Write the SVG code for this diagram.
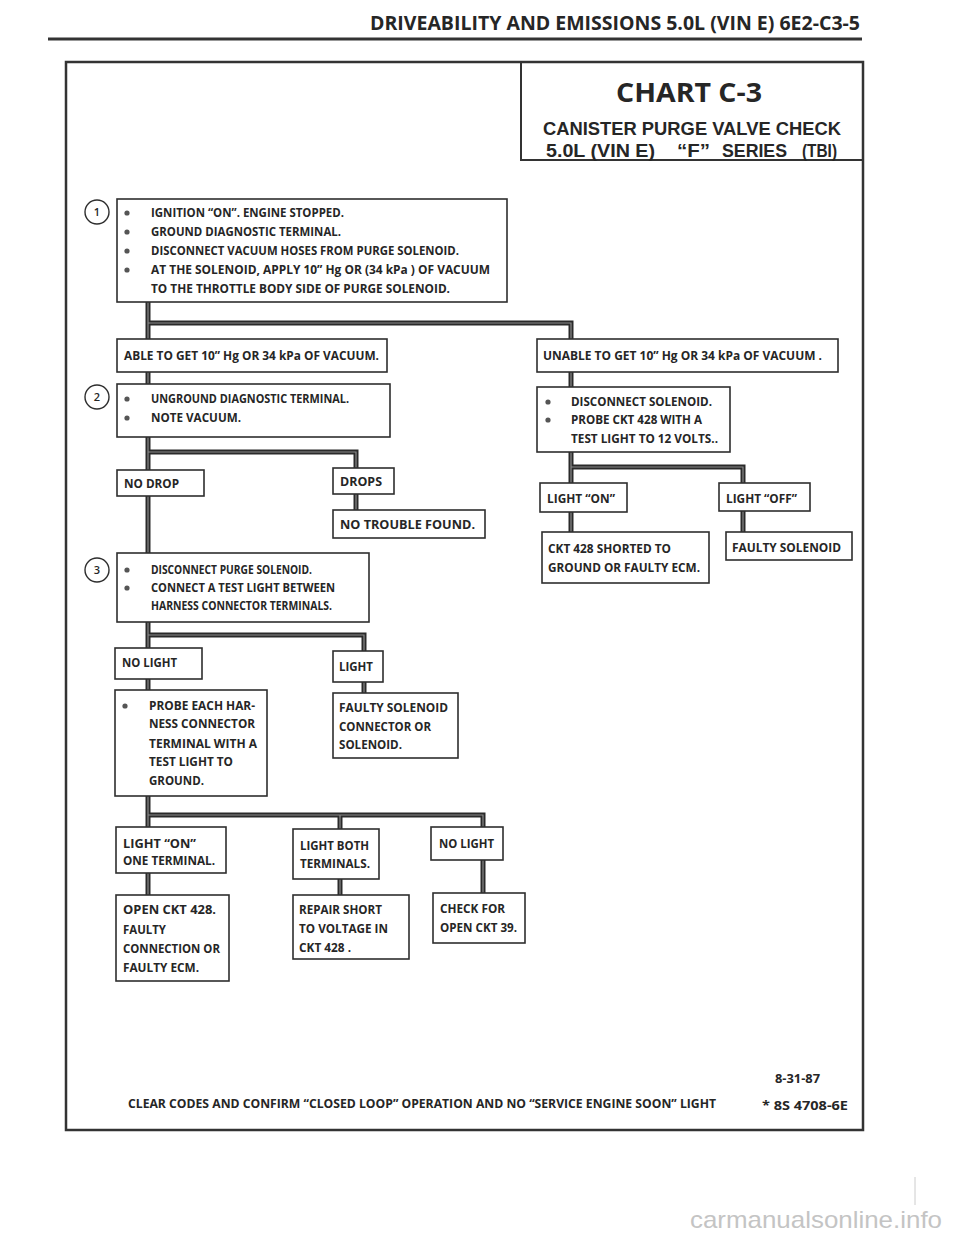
<svg xmlns="http://www.w3.org/2000/svg" xmlns:xlink="http://www.w3.org/1999/xlink" width="960" height="1238" viewBox="0 0 960 1238">
<style>
text{font-family:"Open Sans","Liberation Sans",sans-serif;font-weight:700;fill:#262626}
.t{font-size:11.5px}
.box{fill:#fff;stroke:#2e2e2e;stroke-width:1.6}
.num{fill:#fff;stroke:#2e2e2e;stroke-width:1.4}
.numt{font-size:11px;font-weight:600;text-anchor:middle}
.bul{fill:#555}
.frame{fill:none;stroke:#333;stroke-width:2.5}
.ti{font-size:19px;font-family:"Liberation Sans",Arial,sans-serif}
</style>
<rect width="960" height="1238" fill="#fff"/>
<g id="header">
<text x="370" y="30" font-size="20" textLength="490" lengthAdjust="spacingAndGlyphs">DRIVEABILITY AND EMISSIONS 5.0L (VIN E) 6E2-C3-5</text>
<line x1="48" y1="39" x2="862" y2="39" stroke="#333" stroke-width="3"/>
</g>
<rect class="frame" x="66" y="62" width="797" height="1068"/>
<g id="title">
<polyline points="521,62 521,160 863,160" fill="none" stroke="#333" stroke-width="2"/>
<text x="689" y="102" font-size="26" text-anchor="middle" textLength="146" lengthAdjust="spacingAndGlyphs">CHART C-3</text>
<text class="ti" x="543" y="135" textLength="298" lengthAdjust="spacingAndGlyphs">CANISTER PURGE VALVE CHECK</text>
<text class="ti" x="546" y="157" textLength="109" lengthAdjust="spacingAndGlyphs">5.0L (VIN E)</text>
<text class="ti" x="677" y="157" textLength="33" lengthAdjust="spacingAndGlyphs">“F”</text>
<text class="ti" x="722" y="157" textLength="65" lengthAdjust="spacingAndGlyphs">SERIES</text>
<text class="ti" x="802" y="157" textLength="35" lengthAdjust="spacingAndGlyphs">(TBI)</text>
</g>
<g id="connectors" fill="none">
<g stroke="#2a2a2a" stroke-width="5">
<g id="wires">
<path d="M148 302V339M148 323H571V339"/>
<path d="M148 372V384"/>
<path d="M571 372V387"/>
<path d="M148 437V470M148 452H356V468"/>
<path d="M356 494V510"/>
<path d="M148 496V553"/>
<path d="M571 452V483M571 467H743V483"/>
<path d="M571 512V532M743 511V532"/>
<path d="M148 622V648M148 635H364V651"/>
<path d="M148 679V690M364 682V693"/>
<path d="M148 796V827M148 815H483V827M340 815V829"/>
<path d="M148 873V895M340 879V895M483 860V893"/>
</g>
</g>
<use xlink:href="#wires" stroke="#8a8a8a" stroke-width="1.2"/>
</g>
<g id="n1">
<circle class="num" cx="97" cy="212" r="12"/><text class="numt" x="97" y="216">1</text>
<rect class="box" x="117" y="199" width="390" height="103"/>
<circle class="bul" cx="127" cy="213" r="2.6"/><circle class="bul" cx="127" cy="232" r="2.6"/><circle class="bul" cx="127" cy="251" r="2.6"/><circle class="bul" cx="127" cy="270" r="2.6"/>
<text class="t" x="151" y="217" textLength="193" lengthAdjust="spacingAndGlyphs">IGNITION “ON”.  ENGINE STOPPED.</text>
<text class="t" x="151" y="236" textLength="190" lengthAdjust="spacingAndGlyphs">GROUND DIAGNOSTIC TERMINAL.</text>
<text class="t" x="151" y="255" textLength="308" lengthAdjust="spacingAndGlyphs">DISCONNECT  VACUUM HOSES FROM PURGE  SOLENOID.</text>
<text class="t" x="151" y="274" textLength="339" lengthAdjust="spacingAndGlyphs">AT THE SOLENOID,  APPLY 10” Hg OR (34 kPa ) OF VACUUM</text>
<text class="t" x="151" y="293" textLength="299" lengthAdjust="spacingAndGlyphs">TO THE THROTTLE BODY SIDE OF PURGE SOLENOID.</text>
</g>
<g id="n_able">
<rect class="box" x="117" y="339" width="270" height="33"/>
<text class="t" x="124" y="360" textLength="255" lengthAdjust="spacingAndGlyphs">ABLE TO GET 10” Hg OR 34 kPa OF VACUUM.</text>
</g>
<g id="n_unable">
<rect class="box" x="537" y="339" width="301" height="33"/>
<text class="t" x="543" y="360" textLength="279" lengthAdjust="spacingAndGlyphs">UNABLE TO GET  10” Hg OR 34 kPa OF VACUUM .</text>
</g>
<g id="n2">
<circle class="num" cx="97" cy="397" r="12"/><text class="numt" x="97" y="401">2</text>
<rect class="box" x="117" y="384" width="273" height="53"/>
<circle class="bul" cx="127" cy="399" r="2.6"/><circle class="bul" cx="127" cy="418" r="2.6"/>
<text class="t" x="151" y="403" textLength="198" lengthAdjust="spacingAndGlyphs">UNGROUND DIAGNOSTIC TERMINAL.</text>
<text class="t" x="151" y="422" textLength="90" lengthAdjust="spacingAndGlyphs">NOTE  VACUUM.</text>
</g>
<g id="n_disc">
<rect class="box" x="537" y="387" width="193" height="65"/>
<circle class="bul" cx="548" cy="402" r="2.6"/><circle class="bul" cx="548" cy="420" r="2.6"/>
<text class="t" x="571" y="406" textLength="141" lengthAdjust="spacingAndGlyphs">DISCONNECT SOLENOID.</text>
<text class="t" x="571" y="424" textLength="131" lengthAdjust="spacingAndGlyphs">PROBE CKT 428 WITH A</text>
<text class="t" x="571" y="443" textLength="147" lengthAdjust="spacingAndGlyphs">TEST LIGHT TO 12 VOLTS..</text>
</g>
<g id="n_nodrop">
<rect class="box" x="117" y="470" width="87" height="26"/>
<text class="t" x="124" y="488" textLength="55" lengthAdjust="spacingAndGlyphs">NO DROP</text>
</g>
<g id="n_drops">
<rect class="box" x="333" y="468" width="61" height="26"/>
<text class="t" x="340" y="486" textLength="42" lengthAdjust="spacingAndGlyphs">DROPS</text>
</g>
<g id="n_ntf">
<rect class="box" x="333" y="510" width="152" height="28"/>
<text class="t" x="340" y="529" textLength="135" lengthAdjust="spacingAndGlyphs">NO TROUBLE FOUND.</text>
</g>
<g id="n_lon">
<rect class="box" x="540" y="483" width="87" height="29"/>
<text class="t" x="547" y="503" textLength="68" lengthAdjust="spacingAndGlyphs">LIGHT “ON”</text>
</g>
<g id="n_loff">
<rect class="box" x="719" y="483" width="91" height="28"/>
<text class="t" x="726" y="503" textLength="71" lengthAdjust="spacingAndGlyphs">LIGHT “OFF”</text>
</g>
<g id="n_ckt">
<rect class="box" x="542" y="532" width="167" height="51"/>
<text class="t" x="548" y="553" textLength="123" lengthAdjust="spacingAndGlyphs">CKT 428 SHORTED TO</text>
<text class="t" x="548" y="572" textLength="152" lengthAdjust="spacingAndGlyphs">GROUND OR FAULTY ECM.</text>
</g>
<g id="n_fsol">
<rect class="box" x="726" y="532" width="126" height="28"/>
<text class="t" x="732" y="552" textLength="109" lengthAdjust="spacingAndGlyphs">FAULTY SOLENOID</text>
</g>
<g id="n3">
<circle class="num" cx="97" cy="570" r="12"/><text class="numt" x="97" y="574">3</text>
<rect class="box" x="117" y="553" width="252" height="69"/>
<circle class="bul" cx="127" cy="570" r="2.6"/><circle class="bul" cx="127" cy="588" r="2.6"/>
<text class="t" x="151" y="574" textLength="161" lengthAdjust="spacingAndGlyphs">DISCONNECT PURGE SOLENOID.</text>
<text class="t" x="151" y="592" textLength="184" lengthAdjust="spacingAndGlyphs">CONNECT A TEST LIGHT BETWEEN</text>
<text class="t" x="151" y="610" textLength="181" lengthAdjust="spacingAndGlyphs">HARNESS CONNECTOR TERMINALS.</text>
</g>
<g id="n_nolight">
<rect class="box" x="115" y="648" width="87" height="31"/>
<text class="t" x="122" y="667" textLength="55" lengthAdjust="spacingAndGlyphs">NO LIGHT</text>
</g>
<g id="n_light">
<rect class="box" x="333" y="651" width="50" height="31"/>
<text class="t" x="339" y="671" textLength="34" lengthAdjust="spacingAndGlyphs">LIGHT</text>
</g>
<g id="n_probe">
<rect class="box" x="115" y="690" width="152" height="106"/>
<circle class="bul" cx="125" cy="706" r="2.6"/>
<text class="t" x="149" y="710" textLength="106" lengthAdjust="spacingAndGlyphs">PROBE EACH HAR-</text>
<text class="t" x="149" y="728" textLength="106" lengthAdjust="spacingAndGlyphs">NESS CONNECTOR</text>
<text class="t" x="149" y="748" textLength="108" lengthAdjust="spacingAndGlyphs">TERMINAL WITH  A</text>
<text class="t" x="149" y="766" textLength="84" lengthAdjust="spacingAndGlyphs">TEST LIGHT TO</text>
<text class="t" x="149" y="785" textLength="55" lengthAdjust="spacingAndGlyphs">GROUND.</text>
</g>
<g id="n_fconn">
<rect class="box" x="333" y="693" width="125" height="65"/>
<text class="t" x="339" y="712" textLength="109" lengthAdjust="spacingAndGlyphs">FAULTY SOLENOID</text>
<text class="t" x="339" y="731" textLength="92" lengthAdjust="spacingAndGlyphs">CONNECTOR OR</text>
<text class="t" x="339" y="749" textLength="63" lengthAdjust="spacingAndGlyphs">SOLENOID.</text>
</g>
<g id="n_one">
<rect class="box" x="116" y="827" width="110" height="46"/>
<text class="t" x="123" y="848" textLength="73" lengthAdjust="spacingAndGlyphs">LIGHT “ON”</text>
<text class="t" x="123" y="865" textLength="92" lengthAdjust="spacingAndGlyphs">ONE TERMINAL.</text>
</g>
<g id="n_both">
<rect class="box" x="293" y="829" width="86" height="50"/>
<text class="t" x="300" y="850" textLength="69" lengthAdjust="spacingAndGlyphs">LIGHT BOTH</text>
<text class="t" x="300" y="868" textLength="70" lengthAdjust="spacingAndGlyphs">TERMINALS.</text>
</g>
<g id="n_nl2">
<rect class="box" x="431" y="827" width="72" height="33"/>
<text class="t" x="439" y="848" textLength="55" lengthAdjust="spacingAndGlyphs">NO LIGHT</text>
</g>
<g id="n_open">
<rect class="box" x="116" y="895" width="113" height="86"/>
<text class="t" x="123" y="914" textLength="93" lengthAdjust="spacingAndGlyphs">OPEN CKT 428.</text>
<text class="t" x="123" y="934" textLength="43" lengthAdjust="spacingAndGlyphs">FAULTY</text>
<text class="t" x="123" y="953" textLength="97" lengthAdjust="spacingAndGlyphs">CONNECTION OR</text>
<text class="t" x="123" y="972" textLength="76" lengthAdjust="spacingAndGlyphs">FAULTY ECM.</text>
</g>
<g id="n_repair">
<rect class="box" x="293" y="895" width="116" height="64"/>
<text class="t" x="299" y="914" textLength="83" lengthAdjust="spacingAndGlyphs">REPAIR SHORT</text>
<text class="t" x="299" y="933" textLength="89" lengthAdjust="spacingAndGlyphs">TO VOLTAGE IN</text>
<text class="t" x="299" y="952" textLength="52" lengthAdjust="spacingAndGlyphs">CKT 428 .</text>
</g>
<g id="n_check">
<rect class="box" x="433" y="893" width="92" height="50"/>
<text class="t" x="440" y="913" textLength="65" lengthAdjust="spacingAndGlyphs">CHECK FOR</text>
<text class="t" x="440" y="932" textLength="77" lengthAdjust="spacingAndGlyphs">OPEN CKT 39.</text>
</g>
<g id="footer">
<text class="t" x="775" y="1083" textLength="45" lengthAdjust="spacingAndGlyphs">8-31-87</text>
<text class="t" x="128" y="1108" textLength="588" lengthAdjust="spacingAndGlyphs">CLEAR CODES AND CONFIRM “CLOSED LOOP” OPERATION AND NO “SERVICE ENGINE SOON” LIGHT</text>
<text class="t" x="762" y="1110" textLength="86" lengthAdjust="spacingAndGlyphs">* 8S 4708-6E</text>
</g>
<g id="watermark">
<line x1="915" y1="1177" x2="915" y2="1205" stroke="#ccc" stroke-width="1"/>
<text x="690" y="1228" font-size="24" style="font-family:'Liberation Sans',sans-serif;font-weight:400;fill:#c4c4c4" textLength="252" lengthAdjust="spacingAndGlyphs">carmanualsonline.info</text>
</g>
</svg>
